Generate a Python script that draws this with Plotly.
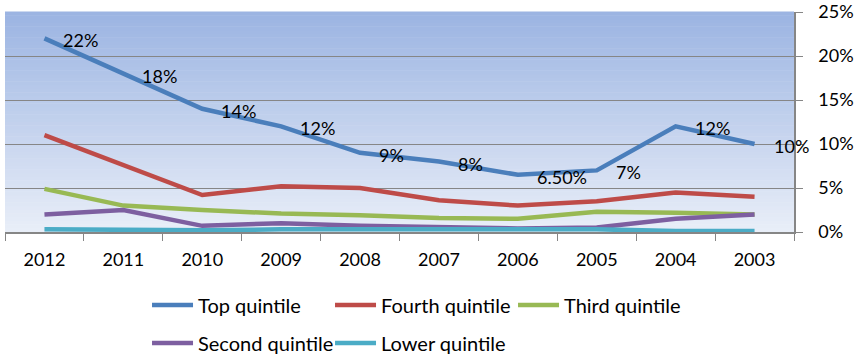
import plotly.graph_objects as go

# Years on the category axis (newest first)
years = ["2012", "2011", "2010", "2009", "2008", "2007", "2006", "2005", "2004", "2003"]

# Share by income quintile (fractions)
top_quintile = [0.22, 0.18, 0.14, 0.12, 0.09, 0.08, 0.065, 0.07, 0.12, 0.10]
fourth_quintile = [0.11, 0.076, 0.042, 0.052, 0.050, 0.036, 0.030, 0.035, 0.045, 0.040]
third_quintile = [0.049, 0.030, 0.025, 0.021, 0.019, 0.016, 0.015, 0.023, 0.022, 0.020]
second_quintile = [0.020, 0.025, 0.007, 0.010, 0.007, 0.006, 0.004, 0.005, 0.015, 0.020]
lower_quintile = [0.003, 0.002, 0.002, 0.003, 0.003, 0.003, 0.002, 0.003, 0.001, 0.001]

# Number format of each data label on the top quintile line
top_label_formats = ["{:.0%}"] * 6 + ["{:.2%}"] + ["{:.0%}"] * 3

y_ticks = [0, 0.05, 0.10, 0.15, 0.20, 0.25]

FONT = "Lato"

series = [
    ("Top quintile", top_quintile, "#4A7EBB", "legend"),
    ("Fourth quintile", fourth_quintile, "#BE4B48", "legend"),
    ("Third quintile", third_quintile, "#98B954", "legend"),
    ("Second quintile", second_quintile, "#7D5FA0", "legend2"),
    ("Lower quintile", lower_quintile, "#4BACC6", "legend2"),
]

fig = go.Figure()
for name, vals, color, leg in series:
    fig.add_trace(go.Scatter(
        x=years, y=vals, name=name, mode="lines",
        line=dict(color=color, width=4.5),
        legend=leg,
    ))

# Value labels to the right of each top-quintile point
annotations = []
for i, (v, fmt) in enumerate(zip(top_quintile, top_label_formats)):
    annotations.append(dict(
        x=i, y=v, xref="x", yref="y", text=fmt.format(v), showarrow=False,
        xanchor="left", yanchor="middle", xshift=17, yshift=-2,
        font=dict(family=FONT, size=18, color="#000000"),
    ))

# Vertical blue-to-white gradient behind the plot area
n_strips = 60
top_rgb = (155, 180, 226)
bot_rgb = (233, 238, 248)
shapes = []
for i in range(n_strips):
    t = (i + 0.5) / n_strips
    c = tuple(round(bot_rgb[k] + (top_rgb[k] - bot_rgb[k]) * t) for k in range(3))
    shapes.append(dict(
        type="rect", xref="x domain", yref="y domain",
        x0=0, x1=1, y0=i / n_strips, y1=(i + 1) / n_strips + 0.002,
        fillcolor=f"rgb{c}", line=dict(width=0), layer="below",
    ))

legend_common = dict(
    orientation="h", x=0.18, xanchor="left", yanchor="middle",
    entrywidth=127, entrywidthmode="pixels", itemwidth=41,
    font=dict(family=FONT, size=20), bgcolor="rgba(0,0,0,0)",
)

fig.update_layout(
    width=856, height=357,
    margin=dict(l=5, r=62, t=12, b=125, autoexpand=False),
    paper_bgcolor="white",
    plot_bgcolor="rgba(0,0,0,0)",
    shapes=shapes,
    annotations=annotations,
    font=dict(family=FONT, size=18, color="#000000"),
    xaxis=dict(
        type="category", tickson="boundaries",
        ticks="outside", ticklen=7, tickcolor="#868686", tickwidth=1,
        showline=True, linecolor="#868686", linewidth=1.5,
        showgrid=False, ticklabelstandoff=11,
        tickfont=dict(family=FONT, size=18),
        range=[-0.5, 9.5],
    ),
    yaxis=dict(
        side="right", range=[0, 0.25], tickvals=y_ticks, tickformat=".0%",
        ticks="outside", ticklen=7, tickcolor="#868686",
        showline=True, linecolor="#868686", linewidth=1.5,
        showgrid=True, gridcolor="#868686", gridwidth=1,
        zeroline=False, ticklabelstandoff=12,
        tickfont=dict(family=FONT, size=18),
    ),
    legend=dict(legend_common, y=-0.332),
    legend2=dict(legend_common, y=-0.505),
    showlegend=True,
)

fig.write_html("out.html")
